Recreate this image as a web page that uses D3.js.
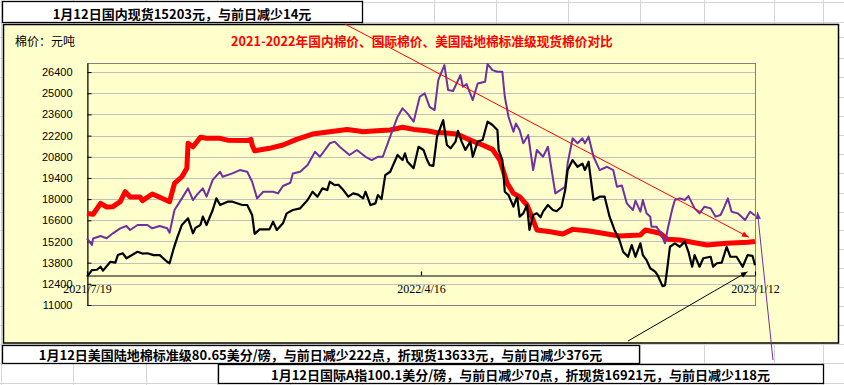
<!DOCTYPE html>
<html>
<head>
<meta charset="utf-8">
<script src="https://cdn.jsdelivr.net/npm/d3@7"></script>
<style>
  body { margin: 0; background: #fff; }
  svg { display: block; }
</style>
</head>
<body>
<svg id="chart" width="844" height="385"></svg>
<script>
// x positions are day offsets from the first date on the axis
const startDate = new Date(2021, 6, 19);
const dateTicks = [new Date(2021, 6, 19), new Date(2022, 3, 16), new Date(2023, 0, 12)];
const yTicks = [11000, 12400, 13800, 15200, 16600, 18000, 19400, 20800, 22200, 23600, 25000, 26400];

// 国内现货 (red)
const domesticDays = [0,5,11,16,21,27,31,35,43,45,53,59,67,71,77,81,82,86,92,97,108,114,130,133,134,136,148,159,170,183,197,211,219,224,235,246,256,265,276,284,289,300,311,321,329,335,341,346,351,357,362,365,376,386,394,406,416,432,449,453,465,471,481,503,519,536,542];
const domesticPrices = [17050,17000,17720,17480,17500,17830,18490,18140,18140,17900,18340,18120,17830,19040,19480,20040,21690,21460,22085,22020,22020,21900,21870,21950,21580,21200,21360,21580,21950,22300,22455,22610,22520,22455,22520,22570,22750,22610,22520,22390,22390,22300,21900,21580,21290,20585,19040,18380,18160,17610,16620,15960,15845,15690,16000,15910,15780,15560,15630,15960,15740,15340,15300,14970,15080,15145,15203];

// 国际A指折现货 (purple)
const intlDays = [0,4,5,11,16,21,27,32,35,41,49,53,59,65,67,71,77,82,86,89,94,97,102,108,110,118,124,130,134,138,143,151,155,159,165,167,173,179,185,189,197,201,205,213,219,226,231,236,240,246,252,256,260,265,270,274,278,282,285,290,293,297,303,305,308,313,317,323,325,329,333,337,339,342,346,348,351,354,358,362,365,370,374,377,380,384,388,390,394,398,402,404,407,411,416,422,427,430,434,438,443,445,449,451,454,457,458,462,465,469,471,475,477,481,485,488,493,497,501,506,510,514,516,520,523,528,534,538,542];
const intlPrices = [15400,14970,15400,15560,15410,15740,16070,16220,15960,16290,16290,16070,16220,16070,15780,17280,18050,18710,17940,18270,18710,18160,19270,19810,19480,19700,19920,19810,19150,18050,18490,18490,18380,18870,19080,19700,19810,20250,21130,20800,21690,21800,21460,20920,21250,20800,20585,20800,20800,22130,23450,24000,23670,23120,24770,24990,24100,23890,25870,26860,25210,25150,26200,25430,25600,24550,25650,25760,26930,26530,26420,26420,24770,23450,22455,23000,22570,21690,22240,19920,21250,20800,21460,19920,18380,18600,18820,20370,22020,21690,22020,21690,22130,20800,19920,20140,19920,18820,18900,17720,17280,17900,17170,17940,17060,16840,16180,16180,15845,15080,15960,17390,17940,18050,17940,18200,17390,17060,17500,17390,16840,16950,17280,18050,17170,17060,16620,17170,16920];

// 美国陆地棉标准级折现货 (black)
const usDays = [0,4,8,11,13,19,23,25,29,32,41,45,49,54,59,65,67,70,73,77,82,86,88,92,94,97,102,105,108,114,118,126,130,134,136,140,148,151,154,159,162,167,173,179,183,187,191,195,197,201,204,208,212,216,220,224,226,230,234,236,239,242,246,252,256,258,260,265,269,273,276,278,281,284,289,292,295,299,301,304,307,311,313,317,321,325,329,333,334,337,339,342,346,349,351,354,357,359,362,365,368,370,374,378,381,385,388,390,394,398,402,404,407,408,411,416,420,424,428,432,435,439,442,445,449,451,454,457,461,463,467,469,471,473,477,481,485,488,491,493,497,500,506,508,511,515,519,522,527,532,536,540,542];
const usPrices = [12870,13310,13330,13530,13270,13860,13800,14300,14420,14090,14520,14400,14420,14300,14300,13860,13760,14640,15410,16290,16730,15740,16100,16290,16840,16290,17280,18050,17610,17830,17830,17610,17610,16950,15700,16000,16000,16510,15960,16400,17060,17280,17390,17940,18490,18160,18710,18600,19150,18930,18950,18600,18160,18380,18300,18050,18490,17610,17720,18270,18000,19590,19810,20920,20585,21030,20470,20040,21460,21250,20585,20250,20200,22130,23230,21580,21360,21800,22520,21800,21250,21800,20800,21800,21910,23120,22900,22570,21250,20585,18490,18270,17500,18160,16840,17060,17610,15960,16950,17060,16800,17170,17610,17280,17200,17500,18600,19920,20585,20140,20350,19920,20470,19810,17940,18160,18160,16840,15960,15300,14520,14190,14970,14190,15080,14300,13970,13430,13200,12970,12250,12300,13530,14850,15080,14850,15190,14520,13530,14300,13530,14090,14190,13530,13760,13800,14850,14190,14190,13530,14300,14250,13633];

const titleText = "2021-2022年国内棉价、国际棉价、美国陆地棉标准级现货棉价对比";
const unitText = "棉价：元吨";
const domesticNote = "1月12日国内现货15203元，与前日减少14元";
const usNote = "1月12日美国陆地棉标准级80.65美分/磅，与前日减少222点，折现货13633元，与前日减少376元";
const intlNote = "1月12日国际A指100.1美分/磅，与前日减少70点，折现货16921元，与前日减少118元";

const svg = d3.select("#chart");
const cjk = "'Noto Sans CJK SC', sans-serif";

// spreadsheet cell grid behind everything
const sheetCols = [1, 73, 146, 217, 290, 362, 434, 496, 568, 640, 704, 774, 823];
const sheetRows = [2, 22, 37, 58, 77, 97, 116, 135, 154, 173, 193, 212, 230, 249, 268, 287, 306, 325, 344, 363, 383];
const sheet = svg.append("g");
sheet.selectAll("line.c").data(sheetCols).enter().append("line")
    .attr("x1", d => d + 0.5).attr("x2", d => d + 0.5).attr("y1", 0).attr("y2", 385)
    .attr("stroke", "#d4d4d4");
sheet.selectAll("line.r").data(sheetRows).enter().append("line")
    .attr("y1", d => d + 0.5).attr("y2", d => d + 0.5).attr("x1", 0).attr("x2", 844)
    .attr("stroke", "#d4d4d4");

// chart area
svg.append("rect").attr("x", 3.5).attr("y", 24.5).attr("width", 835).attr("height", 318.5)
    .attr("fill", "#ffffcc").attr("stroke", "#000").attr("stroke-width", 1.5);

const margin = { left: 87, right: 755, top: 63, bottom: 305 };
const x = d3.scaleTime().domain([dateTicks[0], dateTicks[2]]).range([margin.left, margin.right]);
const y = d3.scaleLinear().domain([11000, 27000]).range([margin.bottom, margin.top]);
const dayToDate = d => d3.timeDay.offset(startDate, d);

// gridlines
svg.append("g").selectAll("line").data(yTicks.slice(1)).enter().append("line")
    .attr("x1", margin.left).attr("x2", margin.right)
    .attr("y1", d => Math.round(y(d)) + 0.5).attr("y2", d => Math.round(y(d)) + 0.5)
    .attr("stroke", "#c0c0c0");

// plot border
svg.append("rect").attr("x", margin.left + 0.5).attr("y", margin.top + 0.5)
    .attr("width", margin.right - margin.left).attr("height", margin.bottom - margin.top)
    .attr("fill", "none").attr("stroke", "#808080");

// value axis
const yAxis = svg.append("g").attr("transform", `translate(${margin.left + 0.5},0)`)
    .call(d3.axisLeft(y).tickValues(yTicks).tickSizeInner(-4).tickSizeOuter(0).tickPadding(15).tickFormat(d3.format("d")));
yAxis.selectAll("text").attr("font-family", "'Liberation Sans', Arial, sans-serif").attr("font-size", 11).attr("fill", "#000");
yAxis.selectAll("line,path").attr("stroke", "#000");

// date axis crosses at 13000
const xAxis = svg.append("g").attr("transform", `translate(0,${Math.round(y(13000)) + 0.5})`)
    .call(d3.axisBottom(x).tickValues(dateTicks).tickSizeInner(-4).tickSizeOuter(0).tickPadding(9).tickFormat(d3.timeFormat("%Y/%-m/%-d")));
xAxis.selectAll("text").attr("font-family", "'Liberation Serif', serif").attr("font-size", 12).attr("fill", "#000");
xAxis.selectAll("line,path").attr("stroke", "#000").attr("stroke-width", 1.2);

// series
const series = [
    { days: domesticDays, values: domesticPrices, color: "#ff0000", width: 5 },
    { days: intlDays, values: intlPrices, color: "#7030a0", width: 2 },
    { days: usDays, values: usPrices, color: "#000000", width: 2.2 }
];
const line = d3.line().x(d => x(dayToDate(d[0]))).y(d => y(d[1]));
series.forEach(s => {
    svg.append("path")
        .datum(d3.zip(s.days, s.values))
        .attr("fill", "none")
        .attr("stroke", s.color)
        .attr("stroke-width", s.width)
        .attr("stroke-linejoin", "round")
        .attr("d", line);
});

// arrow annotations
const defs = svg.append("defs");
["#ff0000", "#000000", "#7030a0"].forEach((c, i) => {
    defs.append("marker").attr("id", "arr" + i)
        .attr("viewBox", "0 0 10 10").attr("refX", 10).attr("refY", 5)
        .attr("markerWidth", 7).attr("markerHeight", 7)
        .attr("markerUnits", "userSpaceOnUse").attr("orient", "auto")
        .append("path").attr("d", "M0,1L10,5L0,9Z").attr("fill", c);
});
const arrows = [
    { from: [345, 24], to: [x(dayToDate(537)), y(15480)], color: "#ff0000", m: 0 },
    { from: [628, 341], to: [x(dayToDate(536)), y(13200)], color: "#000000", m: 1 },
    { from: [773, 360], to: [x(dayToDate(544)), y(17150)], color: "#7030a0", m: 2 }
];
arrows.forEach(a => {
    svg.append("line")
        .attr("x1", a.from[0]).attr("y1", a.from[1]).attr("x2", a.to[0]).attr("y2", a.to[1])
        .attr("stroke", a.color).attr("stroke-width", 1)
        .attr("marker-end", `url(#arr${a.m})`);
});

// titles
svg.append("text").attr("x", 15).attr("y", 46).text(unitText)
    .attr("font-family", cjk).attr("font-size", 12).attr("fill", "#000");
svg.append("text").attr("x", 231).attr("y", 46).text(titleText)
    .attr("font-family", cjk).attr("font-size", 12.7).attr("font-weight", "bold").attr("fill", "#ff0000");

// note boxes
const notes = [
    { text: domesticNote, x0: 2, x1: 362, y0: 1, y1: 22, base: 19 },
    { text: usNote, x0: 2, x1: 639, y0: 345, y1: 363, base: 360 },
    { text: intlNote, x0: 218, x1: 823, y0: 364, y1: 383, base: 380 }
];
notes.forEach(n => {
    svg.append("rect").attr("x", n.x0 + 0.5).attr("y", n.y0 + 0.5)
        .attr("width", n.x1 - n.x0).attr("height", n.y1 - n.y0)
        .attr("fill", "#fff").attr("stroke", "#000").attr("stroke-width", 1.3);
    svg.append("text").attr("x", (n.x0 + n.x1) / 2).attr("y", n.base)
        .attr("text-anchor", "middle").text(n.text)
        .attr("font-family", cjk).attr("font-size", 13).attr("font-weight", "bold").attr("fill", "#000");
});
</script>
</body>
</html>
